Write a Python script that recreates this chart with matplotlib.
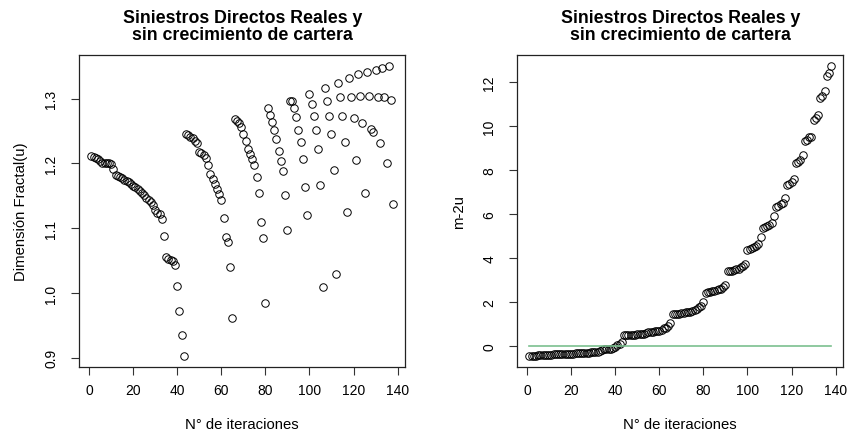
import numpy as np
import matplotlib
matplotlib.use("Agg")
import matplotlib.pyplot as plt

plt.rcParams['font.family'] = ['Liberation Sans', 'DejaVu Sans']

# fractal dimension u, one value per iteration, grouped in blocks
u_block1 = [1.212, 1.210, 1.209, 1.207, 1.204, 1.201, 1.200, 1.200, 1.200, 1.199,
            1.191, 1.182, 1.181, 1.179, 1.177, 1.175, 1.173, 1.171, 1.168, 1.165,
            1.163, 1.160, 1.157, 1.154, 1.152, 1.147, 1.143, 1.140, 1.136, 1.128,
            1.124, 1.122, 1.114, 1.088, 1.055, 1.053, 1.051, 1.049, 1.043, 1.010,
            0.972, 0.935, 0.903]
u_block2 = [1.246, 1.244, 1.241, 1.239, 1.235, 1.232, 1.218, 1.216, 1.213, 1.209,
            1.197, 1.183, 1.176, 1.169, 1.160, 1.153, 1.143, 1.116, 1.086, 1.078,
            1.040, 0.961]
u_block3 = [1.268, 1.266, 1.262, 1.257, 1.245, 1.235, 1.222, 1.214, 1.207, 1.198,
            1.179, 1.155, 1.110, 1.085, 0.985]
u_block4 = [1.285, 1.275, 1.264, 1.251, 1.237, 1.219, 1.204, 1.188, 1.152, 1.097]
u_block5 = [1.297, 1.296, 1.286, 1.271, 1.252, 1.233, 1.207, 1.163, 1.120]
u_block6 = [1.307, 1.292, 1.274, 1.251, 1.222, 1.167, 1.009]
u_block7 = [1.317, 1.297, 1.274, 1.245, 1.190, 1.029]
u_block8 = [1.325, 1.302, 1.273, 1.233, 1.125]
u_block9 = [1.332, 1.303, 1.270, 1.206]
u_block10 = [1.338, 1.304, 1.263, 1.155]
u_block11 = [1.342, 1.304, 1.253, 1.248]
u_block12 = [1.345, 1.303, 1.232]
u_block13 = [1.348, 1.302, 1.201]
u_block14 = [1.350, 1.298, 1.137]

u_blocks = [u_block1, u_block2, u_block3, u_block4, u_block5, u_block6, u_block7,
            u_block8, u_block9, u_block10, u_block11, u_block12, u_block13, u_block14]
m_levels = [2, 3, 4, 5, 6, 7, 8, 9, 10, 11, 12, 13, 14, 15]

u = np.concatenate(u_blocks)
m = np.repeat(m_levels, [len(b) for b in u_blocks])
it = np.arange(1, len(u) + 1)
m2u = m - 2 * u

title = "Siniestros Directos Reales y\nsin crecimiento de cartera"

fig = plt.figure(figsize=(8.56, 4.39), dpi=100)
ax1 = fig.add_axes([0.0926, 0.161, 0.3808, 0.712])
ax2 = fig.add_axes([0.6043, 0.161, 0.3808, 0.712])


def style(ax):
    for s in ax.spines.values():
        s.set_linewidth(0.9)
        s.set_color('#222222')
    ax.tick_params(length=6, width=0.8, labelsize=10, color='#333333')
    ax.tick_params(axis='y', pad=9)
    ax.tick_params(axis='x', pad=5)
    ax.set_xticks(range(0, 141, 20))
    pad = 0.04 * (it[-1] - it[0])
    ax.set_xlim(it[0] - pad, it[-1] + pad)
    ax.set_xlabel("N° de iteraciones", fontsize=10.7, labelpad=15)
    ax.set_title(title, fontsize=12.8, fontweight='bold', pad=11, linespacing=1.0)


ax1.plot(it, u, 'o', mfc='none', mec='black', ms=5.4, mew=0.7)
ax1.set_yticks([0.9, 1.0, 1.1, 1.2, 1.3])
ax1.set_yticklabels(["0.9", "1.0", "1.1", "1.2", "1.3"], rotation=90, va='center')
r = u.max() - u.min()
ax1.set_ylim(u.min() - 0.04 * r, u.max() + 0.04 * r)
ax1.set_ylabel("Dimensión Fractal(u)", fontsize=10.7, labelpad=12)
style(ax1)

ax2.plot(it, m2u, 'o', mfc='none', mec='black', ms=5.4, mew=0.7)
ax2.plot([it[0], it[-1]], [0, 0], color='#7cc08f', lw=1.2)
ax2.set_yticks(range(0, 13, 2))
ax2.set_yticklabels([str(v) for v in range(0, 13, 2)], rotation=90, va='center')
r = m2u.max() - m2u.min()
ax2.set_ylim(m2u.min() - 0.04 * r, m2u.max() + 0.04 * r)
ax2.set_ylabel("m-2u", fontsize=10.7, labelpad=12)
style(ax2)

fig.savefig("out.png", dpi=100)
